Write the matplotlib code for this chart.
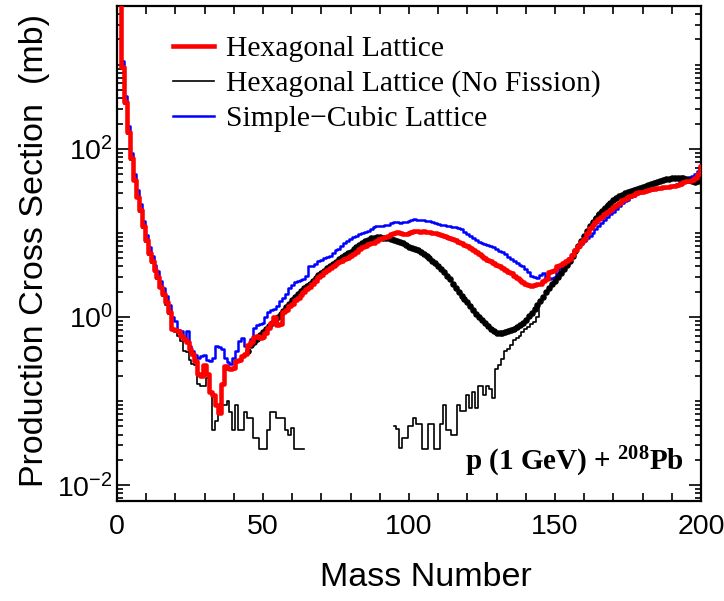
import numpy as np
import matplotlib
matplotlib.use("Agg")
import matplotlib.pyplot as plt
from matplotlib.ticker import FixedLocator, MultipleLocator, LogLocator, NullFormatter, FuncFormatter

# ---------------- data ----------------
mass_all = np.arange(1, 201)

hex_lattice = [
    20000, 950, 360, 160, 78, 43, 27, 19, 12, 8.2,
    5.8, 4.6, 3.6, 3.0, 2.3, 1.9, 1.5, 1.15, 0.72, 0.70,
    0.68, 0.60, 0.55, 0.50, 0.42, 0.36, 0.30, 0.21, 0.20, 0.27,
    0.21, 0.13, 0.12, 0.09, 0.073, 0.16, 0.26, 0.25, 0.24, 0.25,
    0.30, 0.31, 0.34, 0.36, 0.46, 0.50, 0.58, 0.60, 0.56, 0.58,
    0.65, 0.74, 0.85, 1.0, 0.80, 0.82, 1.15, 1.2, 1.35, 1.45,
    1.6, 1.7, 1.85, 2.0, 2.15, 2.3, 2.5, 2.7, 3.0, 3.2,
    3.4, 3.6, 3.8, 4.1, 4.3, 4.5, 4.7, 4.9, 5.1, 5.3,
    5.7, 6.0, 6.5, 6.8, 7.0, 7.3, 7.5, 7.7, 8.0, 8.5,
    8.8, 9.0, 9.2, 9.8, 10.0, 10.2, 10.0, 9.8, 9.8, 10.0,
    10.3, 10.5, 10.6, 10.4, 10.5, 10.3, 10.2, 10.0, 9.9, 9.8,
    9.5, 9.2, 9.0, 8.7, 8.5, 8.2, 7.9, 7.6, 7.2, 7.0,
    6.6, 6.2, 5.9, 5.6, 5.3, 5.0, 4.8, 4.6, 4.4, 4.2,
    4.0, 3.8, 3.6, 3.45, 3.3, 3.1, 2.9, 2.75, 2.6, 2.5,
    2.4, 2.35, 2.4, 2.45, 2.5, 2.7, 2.8, 3.4, 3.5, 3.6,
    4.0, 4.2, 4.4, 4.7, 4.9, 5.5, 6.3, 7.0, 7.8, 8.5,
    10.0, 11.5, 12.5, 13.5, 14.6, 15.5, 16.8, 17.8, 19.0, 20.5,
    21.5, 23.0, 24.5, 25.5, 26.5, 27.5, 28.5, 29.5, 30.5, 31.0,
    31.5, 32.0, 33.0, 33.5, 34.0, 34.5, 35.0, 35.0, 35.5, 36.0,
    36.0, 37.0, 38.5, 40.0, 41.0, 42.0, 43.0, 45.0, 50.0, 62.0,
]

simple_cubic = [
    20000, 1100, 420, 185, 90, 50, 32, 22, 14, 9.5,
    6.8, 5.3, 4.2, 3.5, 2.7, 2.2, 1.8, 1.4, 1.0, 0.90,
    0.70, 0.68, 0.55, 0.68, 0.45, 0.40, 0.35, 0.33, 0.34, 0.35,
    0.31, 0.30, 0.33, 0.45, 0.44, 0.42, 0.33, 0.29, 0.28, 0.33,
    0.40, 0.52, 0.56, 0.45, 0.46, 0.55, 0.75, 0.80, 0.82, 0.86,
    1.0, 1.15, 1.2, 1.25, 1.35, 1.55, 1.7, 1.9, 2.2, 2.4,
    2.6, 2.7, 2.75, 2.8, 3.1, 4.0, 4.1, 4.3, 4.6, 4.8,
    5.0, 5.2, 5.3, 5.8, 6.2, 6.5, 7.0, 7.6, 8.0, 8.4,
    8.9, 9.2, 9.6, 10.0, 10.3, 10.6, 11.2, 11.8, 12.1, 12.0,
    12.2, 12.4, 12.3, 13.0, 13.5, 13.5, 13.3, 13.4, 13.6, 14.0,
    14.2, 14.6, 14.4, 14.3, 14.1, 13.9, 13.9, 13.4, 13.0, 12.8,
    12.5, 12.3, 12.1, 12.1, 11.9, 11.8, 11.6, 11.0, 10.2, 9.6,
    9.2, 8.6, 8.2, 7.8, 7.6, 7.4, 7.2, 7.0, 6.8, 6.4,
    6.1, 5.9, 5.6, 5.2, 4.9, 4.7, 4.4, 4.2, 4.0, 3.7,
    3.4, 3.1, 3.0, 2.9, 3.2, 3.3, 3.0, 2.8, 2.9, 3.0,
    3.3, 3.8, 4.2, 4.5, 5.0, 5.6, 6.2, 6.8, 7.4, 8.0,
    8.6, 9.2, 10.0, 11.0, 12.0, 13.0, 14.2, 15.5, 16.8, 18.0,
    19.5, 21.0, 22.5, 24.0, 25.0, 26.5, 27.5, 29.0, 30.0, 31.0,
    31.5, 32.0, 32.5, 33.0, 33.5, 34.0, 34.5, 35.0, 35.5, 36.0,
    37.0, 38.0, 40.0, 42.0, 44.0, 46.0, 48.0, 50.0, 55.0, 65.0,
]

# Hexagonal lattice, no fission (thin histogram), low-mass part A = 1..64
mass_nofis_low = np.arange(1, 65)
nofis_low = [
    20000, 900, 340, 150, 74, 41, 26, 18, 11.5, 7.8,
    5.5, 4.4, 3.4, 2.8, 2.2, 1.8, 1.4, 1.1, 0.70, 0.66,
    0.60, 0.52, 0.40, 0.38, 0.31, 0.28, 0.27, 0.16, 0.15, 0.15,
    0.19, 0.13, 0.046, 0.058, 0.089, 0.089, 0.089, 0.10, 0.075, 0.046,
    0.089, 0.046, 0.046, 0.075, 0.063, 0.063, 0.036, 0.036, 0.027, 0.027,
    0.027, 0.046, 0.075, 0.075, 0.063, 0.063, 0.063, 0.046, 0.040, 0.048,
    0.027, 0.027, 0.027, 0.027,
]

# high-mass part A = 95..200
mass_nofis_high = np.arange(95, 201)
nofis_high = [
    0.050, 0.047, 0.028, 0.036, 0.036, 0.050, 0.050, 0.063, 0.053, 0.053,
    0.027, 0.027, 0.053, 0.053, 0.027, 0.027, 0.053, 0.089, 0.046, 0.046,
    0.040, 0.040, 0.089, 0.077, 0.077, 0.12, 0.083, 0.13, 0.083, 0.15,
    0.15, 0.12, 0.15, 0.14, 0.11, 0.24, 0.27, 0.32, 0.40, 0.42,
    0.46, 0.53, 0.56, 0.60, 0.67, 0.72, 0.76, 0.82, 0.88, 1.0,
    1.55, 1.75, 2.0, 2.2, 2.45, 2.7, 3.0, 3.3, 3.7, 4.2,
    4.7, 5.3, 6.1, 7.0, 8.0, 9.2, 10.5, 12.0, 13.5, 15.0,
    16.8, 18.5, 20.0, 21.5, 23.0, 24.5, 26.0, 27.5, 28.5, 29.5,
    30.5, 31.5, 32.5, 33.5, 34.5, 35.5, 36.5, 37.5, 38.5, 39.5,
    40.5, 41.5, 42.5, 43.5, 44.0, 44.5, 45.0, 45.5, 45.5, 45.0,
    44.0, 43.0, 42.0, 40.0, 42.0, 60.0,
]

# dotted black series, A = 45..200
mass_dots = np.arange(45, 201)
dots = [
    0.40, 0.46, 0.50, 0.55, 0.62, 0.67, 0.72, 0.78, 0.85, 0.93,
    1.0, 1.08, 1.18, 1.3, 1.45, 1.6, 1.75, 1.9, 2.05, 2.2,
    2.35, 2.5, 2.7, 2.9, 3.15, 3.35, 3.55, 3.8, 4.05, 4.3,
    4.55, 4.85, 5.15, 5.45, 5.75, 6.0, 6.4, 6.8, 7.2, 7.6,
    8.0, 8.3, 8.6, 8.8, 8.9, 8.9, 8.8, 8.7, 8.6, 8.4,
    8.2, 8.0, 7.8, 7.5, 7.2, 6.9, 6.7, 6.5, 6.2, 5.9,
    5.6, 5.3, 5.0, 4.7, 4.4, 4.0, 3.7, 3.4, 3.1, 2.8,
    2.5, 2.2, 2.0, 1.8, 1.65, 1.5, 1.35, 1.2, 1.1, 1.0,
    0.92, 0.85, 0.78, 0.72, 0.68, 0.65, 0.64, 0.65, 0.67, 0.68,
    0.70, 0.73, 0.76, 0.80, 0.86, 0.93, 1.02, 1.12, 1.25, 1.4,
    1.55, 1.75, 2.0, 2.2, 2.45, 2.7, 3.0, 3.3, 3.7, 4.2,
    4.7, 5.3, 6.1, 7.0, 8.0, 9.2, 10.5, 12.0, 13.5, 15.0,
    16.8, 18.5, 20.0, 21.5, 23.0, 24.5, 26.0, 27.5, 28.5, 29.5,
    30.5, 31.5, 32.5, 33.5, 34.5, 35.5, 36.5, 37.5, 38.5, 39.5,
    40.5, 41.5, 42.5, 43.5, 44.0, 44.5, 45.0, 45.5, 45.5, 45.0,
    44.0, 43.0, 42.0, 40.0, 42.0, 60.0,
]

labels = ["Hexagonal Lattice", "Hexagonal Lattice (No Fission)", "Simple\u2212Cubic Lattice"]
x_ticks = [0, 50, 100, 150, 200]
y_ticks = [1e-2, 1e0, 1e2]

# ---------------- plot ----------------
SANS = "Liberation Sans"
SERIF = "Liberation Serif"

fig = plt.figure(figsize=(7.24, 6.01), dpi=100)
ax = fig.add_axes([117 / 724, (601 - 501) / 601, 584 / 724, 495 / 601])

ax.plot(mass_nofis_low, nofis_low, drawstyle="steps-mid", color="black", lw=1.2, zorder=2)
ax.plot(mass_nofis_high, nofis_high, drawstyle="steps-mid", color="black", lw=1.2, zorder=2)
h_blue, = ax.plot(mass_all, simple_cubic, drawstyle="steps-mid", color="#0000ff", lw=1.8, zorder=3)
ax.plot(mass_dots, dots, linestyle="none", marker="o", ms=3.7, color="black", mec="black", zorder=4)
h_red, = ax.plot(mass_all, hex_lattice, drawstyle="steps-mid", color="#ff0000", lw=3.3, zorder=5)
h_black, = ax.plot([], [], color="black", lw=1.2)

ax.set_yscale("log")
ax.set_xlim(0, 200)
ax.set_ylim(0.0065, 5000)

ax.xaxis.set_major_locator(FixedLocator(x_ticks))
ax.xaxis.set_minor_locator(MultipleLocator(10))
ax.yaxis.set_major_locator(FixedLocator(y_ticks))
ax.yaxis.set_minor_locator(LogLocator(base=10, subs=np.arange(1, 10), numticks=100))
ax.yaxis.set_minor_formatter(NullFormatter())
ax.yaxis.set_major_formatter(FuncFormatter(lambda v, p: r"$\mathregular{10^{%d}}$" % int(round(np.log10(v)))))

ax.tick_params(which="both", direction="in", top=True, right=True, width=1.2, colors="black")
ax.tick_params(axis="x", which="major", length=5.5, pad=9, labelsize=20.5)
ax.tick_params(axis="x", which="minor", length=5.5)
ax.tick_params(axis="y", which="major", length=9, pad=3, labelsize=20.5)
ax.tick_params(axis="y", which="minor", length=4)
for t in ax.xaxis.get_major_ticks():
    if abs(t.get_loc() - 100) < 1e-6:
        t.tick1line.set_markersize(11)
        t.tick2line.set_markersize(11)
for lab in ax.get_xticklabels() + ax.get_yticklabels():
    lab.set_fontfamily(SANS)
for sp in ax.spines.values():
    sp.set_linewidth(1.6)

leg = ax.legend([h_red, h_black, h_blue], labels, loc="upper left",
                bbox_to_anchor=(0.096, 0.94), frameon=False,
                prop={"family": SERIF, "size": 21.3},
                handlelength=1.4, handletextpad=0.38, labelspacing=0.27,
                borderpad=0, borderaxespad=0)

ax.text(0.596, 0.078, r"p (1 GeV) + $\mathregular{^{208}}$Pb", transform=ax.transAxes,
        fontfamily=SERIF, fontweight="bold", fontsize=21, ha="left", va="center")

fig.text(35 / 724, 1 - 250 / 601, "Production Cross Section  (mb)", rotation=90,
         ha="center", va="center", fontfamily=SANS, fontsize=24.5)
fig.text(426 / 724, 1 - 578 / 601, "Mass Number", ha="center", va="center",
         fontfamily=SANS, fontsize=24.5)

fig.savefig("out.png", dpi=100)
